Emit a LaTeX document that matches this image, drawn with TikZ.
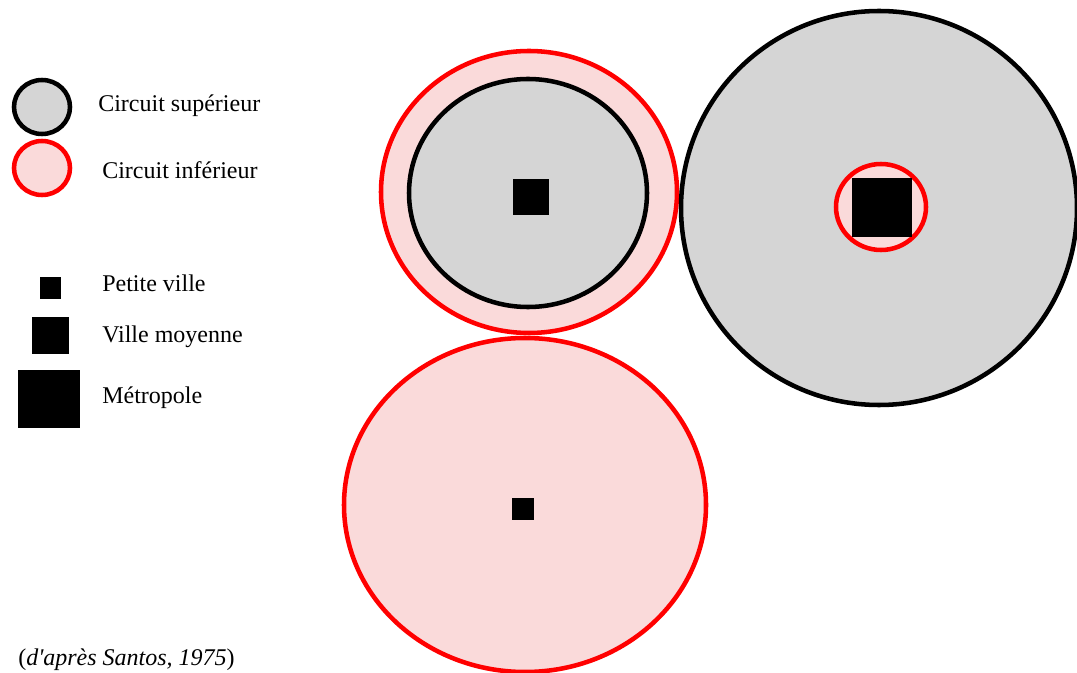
\documentclass[tikz,border=0pt]{standalone}
\usepackage{fontspec}
\setmainfont{Liberation Serif}
\usepackage{tikz}
\definecolor{gris}{HTML}{D5D5D5}
\definecolor{rose}{HTML}{FADADA}
\definecolor{rouge}{HTML}{FF0000}

\begin{document}
\begin{tikzpicture}[
  x=0.75pt, y=-0.75pt,
  font=\fontsize{18}{22}\selectfont,
  circsup/.style={draw=black, fill=gris, line width=3.4pt},
  circinf/.style={draw=rouge, fill=rose, line width=3.4pt},
  legende/.style={anchor=west, inner sep=0pt}
]
  \useasboundingbox (0,0) rectangle (1077,673);

  % Legende
  \draw[circsup] (42,107) ellipse [x radius=28, y radius=27];
  \draw[circinf] (42,168) ellipse [x radius=28, y radius=27];
  \node[legende] (lsup) at (98,106) {Circuit supérieur};
  \node[legende] (linf) at (102,170) {Circuit inférieur};

  \fill (40,277) rectangle (61,299);
  \fill (32,317) rectangle (69,354);
  \fill (18,370) rectangle (80,428);
  \node[legende] (lpetite) at (102,283) {Petite ville};
  \node[legende] (lmoyenne) at (102,337) {Ville moyenne};
  \node[legende] (lmetro) at (102,398) {Métropole};

  % Ville moyenne
  \draw[circinf] (529,192) ellipse [x radius=148, y radius=141];
  \draw[circsup] (528,193) ellipse [x radius=119, y radius=114];
  \fill (513,179) rectangle (549,215);

  % Metropole
  \draw[circsup] (879,208) ellipse [x radius=198, y radius=197];
  \draw[circinf] (881,207) ellipse [x radius=45, y radius=43];
  \fill (852,178) rectangle (912,237);

  % Petite ville
  \draw[circinf] (525,505) ellipse [x radius=181, y radius=167];
  \fill (512,498) rectangle (534,520);

  % Source
  \node[legende] (source) at (18,660) {(\textit{d\textquotesingle après Santos, 1975})};
\end{tikzpicture}
\end{document}
